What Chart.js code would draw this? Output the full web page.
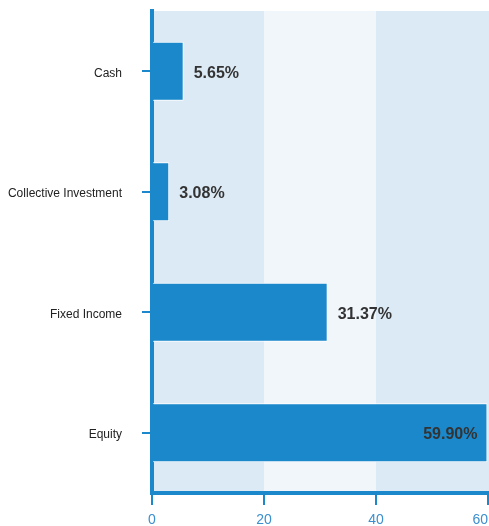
<!DOCTYPE html>
<html>
<head>
<meta charset="utf-8">
<script src="https://cdn.jsdelivr.net/npm/chart.js@4.4.0/dist/chart.umd.min.js"></script>
<style>
  html, body { margin: 0; padding: 0; background: #fff; }
  #wrap { width: 489px; height: 526px; }
</style>
</head>
<body>
<div id="wrap"><canvas id="allocChart"></canvas></div>
<script>
const categories = ['Cash', 'Collective Investment', 'Fixed Income', 'Equity'];
const weights = [5.65, 3.08, 31.37, 59.90];
const xTicks = [0, 20, 40, 60];

const BLUE = '#1a88cb';
const AXIS_BLUE = '#1a88cb';

// alternating bands behind everything (axis borders draw over them)
const bandPlugin = {
    id: 'bands',
    beforeDraw(chart) {
        const {ctx, chartArea, scales} = chart;
        const x = scales.x;
        ctx.save();
        for (let i = 0; i < xTicks.length - 1; i++) {
            const x0 = x.getPixelForValue(xTicks[i]);
            const x1 = x.getPixelForValue(xTicks[i + 1]);
            ctx.fillStyle = i % 2 === 0 ? '#dceaf5' : '#f1f6fb';
            ctx.fillRect(x0, chartArea.top, x1 - x0 + (i === xTicks.length - 2 ? 2 : 0), chartArea.bottom - chartArea.top);
        }
        ctx.restore();
    }
};

// percent labels next to (or inside) the bars
const valueLabels = {
    id: 'valueLabels',
    afterDatasetsDraw(chart) {
        const {ctx, chartArea} = chart;
        const meta = chart.getDatasetMeta(0);
        ctx.save();
        ctx.font = 'bold 16px "Liberation Sans", Arial, sans-serif';
        ctx.fillStyle = '#333333';
        ctx.textBaseline = 'middle';
        meta.data.forEach((bar, i) => {
            const txt = weights[i].toFixed(2) + '%';
            const w = ctx.measureText(txt).width;
            if (bar.x + 10 + w > chartArea.right - 4) {
                ctx.textAlign = 'right';
                ctx.fillText(txt, bar.x - 10, bar.y + 2);
            } else {
                ctx.textAlign = 'left';
                ctx.fillText(txt, bar.x + 10, bar.y + 2);
            }
        });
        ctx.restore();
    }
};

new Chart(document.getElementById('allocChart'), {
    type: 'bar',
    data: {
        labels: categories,
        datasets: [{
            data: weights,
            backgroundColor: BLUE,
            borderColor: '#ffffff',
            borderWidth: 1,
            borderSkipped: 'start',
            barPercentage: 0.49,
            categoryPercentage: 1
        }]
    },
    options: {
        indexAxis: 'y',
        responsive: true,
        maintainAspectRatio: false,
        animation: false,
        layout: { padding: { top: 11, right: 1, left: 0, bottom: 0 } },
        plugins: {
            legend: { display: false },
            tooltip: { enabled: false }
        },
        scales: {
            x: {
                min: 0,
                max: 60,
                afterBuildTicks: (scale) => { scale.ticks = xTicks.map(v => ({value: v})); },
                afterFit: (scale) => { scale.paddingLeft = 0; scale.paddingRight = 0; scale.height = 33; },
                border: { display: true, color: AXIS_BLUE, width: 4 },
                grid: { drawOnChartArea: false, color: AXIS_BLUE, lineWidth: 2, tickLength: 12 },
                ticks: {
                    color: '#3b8fcf',
                    padding: 7,
                    font: { family: '"Liberation Sans", Arial, sans-serif', size: 14 },
                    callback: (v) => v === 60 ? '60    ' : String(v)
                }
            },
            y: {
                afterFit: (scale) => { scale.width = 152; scale.paddingTop = 0; scale.paddingBottom = 0; },
                border: { display: true, color: AXIS_BLUE, width: 4 },
                grid: { drawOnChartArea: false, offset: false, color: AXIS_BLUE, lineWidth: 2, tickLength: 10 },
                ticks: {
                    color: '#222222',
                    padding: 20,
                    labelOffset: 2,
                    font: { family: '"Liberation Sans", Arial, sans-serif', size: 12 }
                }
            }
        }
    },
    plugins: [bandPlugin, valueLabels]
});
</script>
</body>
</html>
